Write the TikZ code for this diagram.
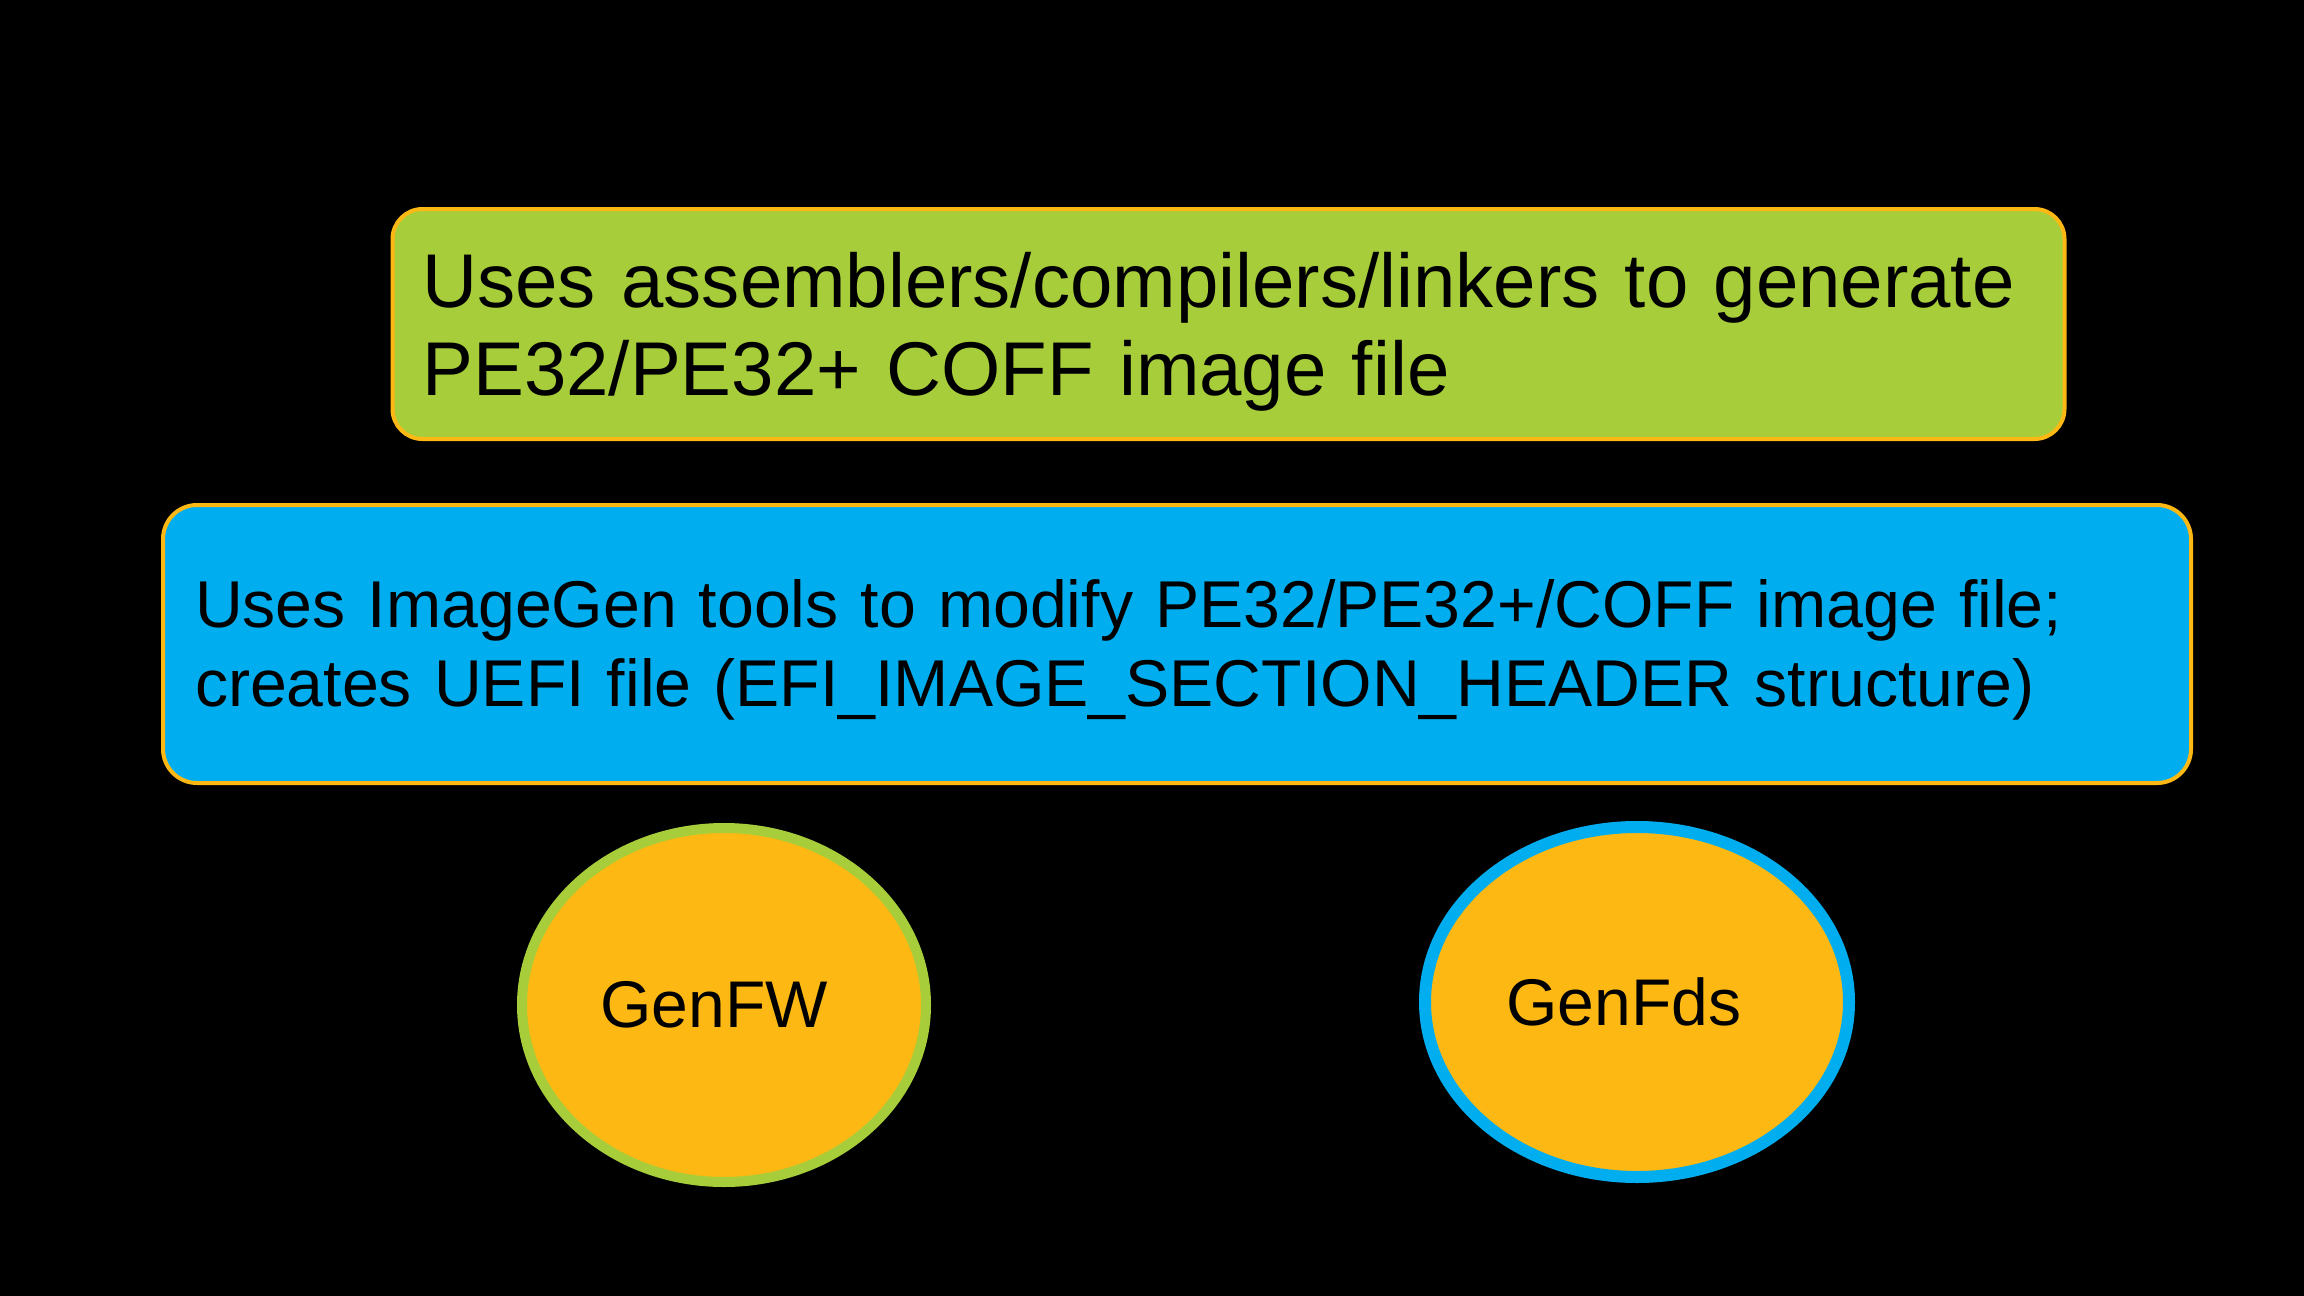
\documentclass[tikz,border=0pt]{standalone}
\usepackage{fontspec}
\setmainfont{Liberation Sans}
\usetikzlibrary{shapes.geometric}
\definecolor{stepgreen}{HTML}{A8CD3A}
\definecolor{stepblue}{HTML}{00AEEF}
\definecolor{steporange}{HTML}{FDB813}
\tikzset{
    infobox/.style={draw=steporange, line width=2pt, rounded corners=15pt,
        align=left, inner xsep=15pt, anchor=center},
    toolnode/.style={ellipse, fill=steporange, text=black,
        font=\fontsize{33}{40}\selectfont}
}

\begin{document}
\begin{tikzpicture}[x=0.5pt, y=-0.5pt]
    \fill[black] (0, 0) rectangle (2304, 1296);
    \useasboundingbox (0, 0) rectangle (2304, 1296);

    % two text boxes
    \node[infobox, fill=stepgreen, minimum width=836pt, minimum height=115pt,
        text width=806pt, font=\fontsize{38.1}{44}\selectfont] (compile) at (1228.5, 324)
        {\rule{0pt}{35pt}Uses assemblers/compilers/linkers to generate\\PE32/PE32+ COFF image file};
    \node[infobox, fill=stepblue, minimum width=1012pt, minimum height=139pt,
        text width=982pt, inner xsep=16pt, rounded corners=17pt, font=\fontsize{33.1}{39.5}\selectfont] (imagegen) at (1177, 644)
        {\rule{0pt}{30pt}Uses ImageGen tools to modify PE32/PE32+/COFF image file;\\creates UEFI file (EFI\_IMAGE\_SECTION\_HEADER structure)};

    % the tools
    \node[toolnode, draw=stepgreen, line width=5pt, minimum width=202pt, minimum height=177pt] (genfw) at (724, 1005) {GenFW\hspace*{10pt}};
    \node[toolnode, draw=stepblue, line width=6pt, minimum width=212pt, minimum height=175pt] (genfds) at (1637, 1002) {GenFds\hspace*{13pt}};
\end{tikzpicture}
\end{document}
